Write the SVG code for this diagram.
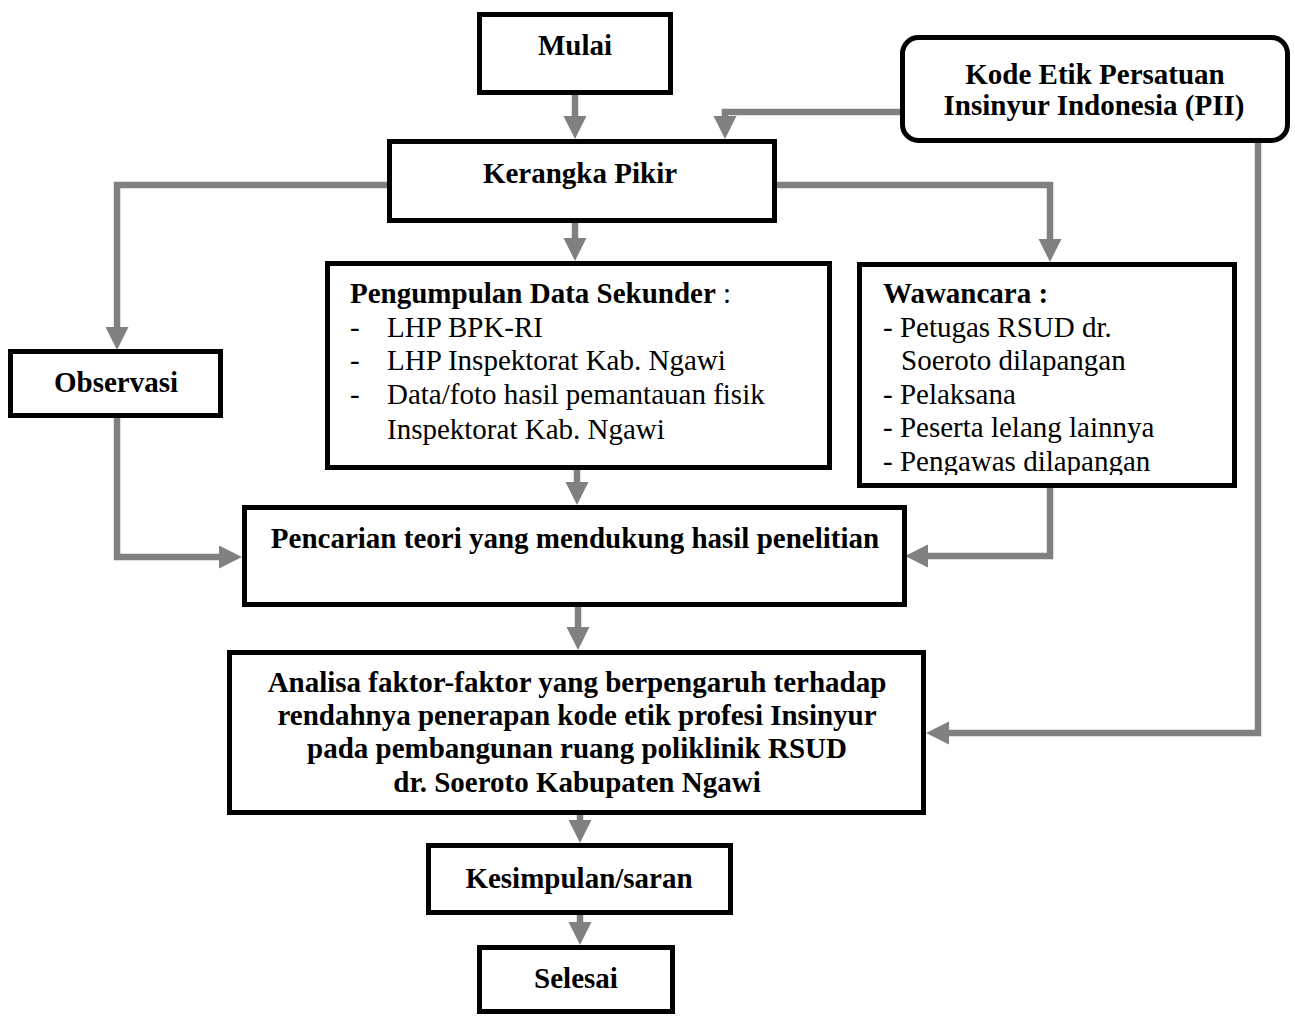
<svg xmlns="http://www.w3.org/2000/svg" width="1295" height="1016" viewBox="0 0 1295 1016">
<style>
.box{fill:#fff;stroke:#000;stroke-width:5}
.con{fill:none;stroke:#808080;stroke-width:6.5;stroke-linejoin:miter}
.b{font-family:"Liberation Serif","Times New Roman",serif;font-weight:bold;font-size:29px;fill:#000}
.r{font-family:"Liberation Serif","Times New Roman",serif;font-weight:normal;font-size:29px;fill:#000}
.c{text-anchor:middle}
</style>
<defs>
<marker id="ah" markerUnits="userSpaceOnUse" markerWidth="24" markerHeight="24" refX="0" refY="11.5" orient="auto" viewBox="0 0 24 24">
<path d="M0,0 L23,11.5 L0,23 z" fill="#808080"/>
</marker>
<clipPath id="wclip"><rect x="860" y="265" width="375" height="210"/></clipPath>
</defs>
<rect width="1295" height="1016" fill="#fff"/>
<g id="connectors">
<path class="con" d="M575,95 V116" marker-end="url(#ah)"/>
<path class="con" d="M902,112 H725 V116" marker-end="url(#ah)"/>
<path class="con" d="M389,185 H117 V327" marker-end="url(#ah)"/>
<path class="con" d="M575,223 V238" marker-end="url(#ah)"/>
<path class="con" d="M777,185 H1050 V239" marker-end="url(#ah)"/>
<path class="con" d="M117,418 V557 H219" marker-end="url(#ah)"/>
<path class="con" d="M577,470 V482" marker-end="url(#ah)"/>
<path class="con" d="M1050,488 V556 H928" marker-end="url(#ah)"/>
<path class="con" d="M578,607 V627" marker-end="url(#ah)"/>
<path class="con" d="M1258,143 V733 H949" marker-end="url(#ah)"/>
<path class="con" d="M580,815 V820" marker-end="url(#ah)"/>
<path class="con" d="M580,915 V922" marker-end="url(#ah)"/>
</g>
<g id="mulai">
<rect class="box" x="479.5" y="14.5" width="191" height="78"/>
<text class="b c" x="575" y="55">Mulai</text>
</g>
<g id="kerangka">
<rect class="box" x="389.5" y="141.5" width="385" height="79"/>
<text class="b c" x="580" y="183">Kerangka Pikir</text>
</g>
<g id="pii">
<rect class="box" x="902.5" y="37.5" width="385" height="103" rx="16" ry="16"/>
<text class="b c" x="1095" y="84">Kode Etik Persatuan</text>
<text class="b c" x="1094" y="115">Insinyur Indonesia (PII)</text>
</g>
<g id="observasi">
<rect class="box" x="10.5" y="351.5" width="210" height="64"/>
<text class="b c" x="116" y="392">Observasi</text>
</g>
<g id="data">
<rect class="box" x="327.5" y="263.5" width="502" height="204"/>
<text x="350" y="303"><tspan class="b">Pengumpulan Data Sekunder</tspan><tspan class="r"> :</tspan></text>
<text class="r" x="350" y="337">-</text>
<text class="r" x="387" y="337">LHP BPK-RI</text>
<text class="r" x="350" y="370">-</text>
<text class="r" x="387" y="370">LHP Inspektorat Kab. Ngawi</text>
<text class="r" x="350" y="404">-</text>
<text class="r" x="387" y="404">Data/foto hasil pemantauan fisik</text>
<text class="r" x="387" y="439">Inspektorat Kab. Ngawi</text>
</g>
<g id="wawancara">
<rect class="box" x="859.5" y="264.5" width="375" height="221"/>
<g clip-path="url(#wclip)">
<text class="b" x="883" y="303">Wawancara :</text>
<text class="r" x="883" y="337">- Petugas RSUD dr.</text>
<text class="r" x="901" y="370">Soeroto dilapangan</text>
<text class="r" x="883" y="404">- Pelaksana</text>
<text class="r" x="883" y="437">- Peserta lelang lainnya</text>
<text class="r" x="883" y="471">- Pengawas dilapangan</text>
</g>
</g>
<g id="pencarian">
<rect class="box" x="244.5" y="507.5" width="660" height="97"/>
<text class="b c" x="575" y="548">Pencarian teori yang mendukung hasil penelitian</text>
</g>
<g id="analisa">
<rect class="box" x="229.5" y="652.5" width="694" height="160"/>
<text class="b c" x="577" y="692">Analisa faktor-faktor yang berpengaruh terhadap</text>
<text class="b c" x="577" y="725">rendahnya penerapan kode etik profesi Insinyur</text>
<text class="b c" x="577" y="758">pada pembangunan ruang poliklinik RSUD</text>
<text class="b c" x="577" y="792">dr. Soeroto Kabupaten Ngawi</text>
</g>
<g id="kesimpulan">
<rect class="box" x="428.5" y="845.5" width="302" height="67"/>
<text class="b c" x="579" y="888">Kesimpulan/saran</text>
</g>
<g id="selesai">
<rect class="box" x="479.5" y="947.5" width="193" height="64"/>
<text class="b c" x="576" y="988">Selesai</text>
</g>
</svg>
